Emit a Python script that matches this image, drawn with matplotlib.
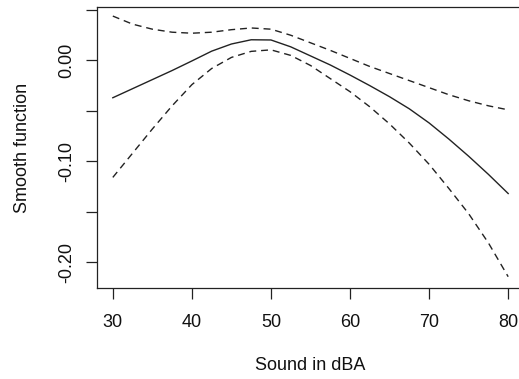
import matplotlib
matplotlib.use("Agg")
import matplotlib.pyplot as plt

plt.rcParams['font.family'] = ['Liberation Sans', 'DejaVu Sans']

sound = [30, 32.5, 35, 37.5, 40, 42.5, 45, 47.5, 50, 52.5, 55, 57.5,
         60, 62.5, 65, 67.5, 70, 72.5, 75, 77.5, 80]
fit = [-0.037, -0.028, -0.019, -0.010, -0.0005, 0.0092, 0.0163, 0.0205, 0.0203,
       0.0135, 0.0045, -0.0045, -0.0145, -0.025, -0.036, -0.048, -0.062,
       -0.078, -0.095, -0.113, -0.132]
upper = [0.044, 0.036, 0.031, 0.028, 0.027, 0.028, 0.0305, 0.0322, 0.031, 0.025,
         0.0175, 0.010, 0.002, -0.006, -0.013, -0.020, -0.027, -0.034, -0.040,
         -0.045, -0.049]
lower = [-0.116, -0.092, -0.068, -0.045, -0.024, -0.008, 0.003, 0.009, 0.0105,
         0.005, -0.005, -0.018, -0.031, -0.046, -0.063, -0.082, -0.103, -0.127,
         -0.152, -0.181, -0.2145]
xticks = [30, 40, 50, 60, 70, 80]
yticks = [-0.20, -0.15, -0.10, -0.05, 0.00, 0.05]
ytick_labels = ["-0.20", "", "-0.10", "", "0.00", ""]

W, H = 519, 379
fig = plt.figure(figsize=(W / 100, H / 100), dpi=100)
left, right, top, bottom = 97, 524, 7, 288
ax = fig.add_axes([left / W, (H - bottom) / H, (right - left) / W, (bottom - top) / H])

ax.plot(sound, fit, color='#222222', lw=1.0, solid_joinstyle='round')
ax.plot(sound, upper, color='#222222', lw=1.0, dashes=(5, 3.5))
ax.plot(sound, lower, color='#222222', lw=1.0, dashes=(5, 3.5))

ax.set_xlim(28, 82)
ax.set_ylim(-0.2257, 0.053)
ax.set_xticks(xticks)
ax.set_xticklabels([str(v) for v in xticks])
ax.set_yticks(yticks)
ax.set_yticklabels(ytick_labels, rotation=90, va='center')

for s in ax.spines.values():
    s.set_linewidth(0.9)
    s.set_color('#222222')

ax.tick_params(axis='both', direction='out', length=8, width=0.9,
               color='#222222', labelsize=13, labelcolor='#111111')
ax.tick_params(axis='x', pad=11)
ax.tick_params(axis='y', pad=8)

ax.set_xlabel("Sound in dBA", fontsize=13, color='#111111', va='center')
ax.xaxis.set_label_coords(0.5, -0.277)
ax.set_ylabel("Smooth function", fontsize=13, color='#111111', va='center')
ax.yaxis.set_label_coords(-(left - 23) / (right - left), 0.5)

fig.savefig("out.png", dpi=100)
